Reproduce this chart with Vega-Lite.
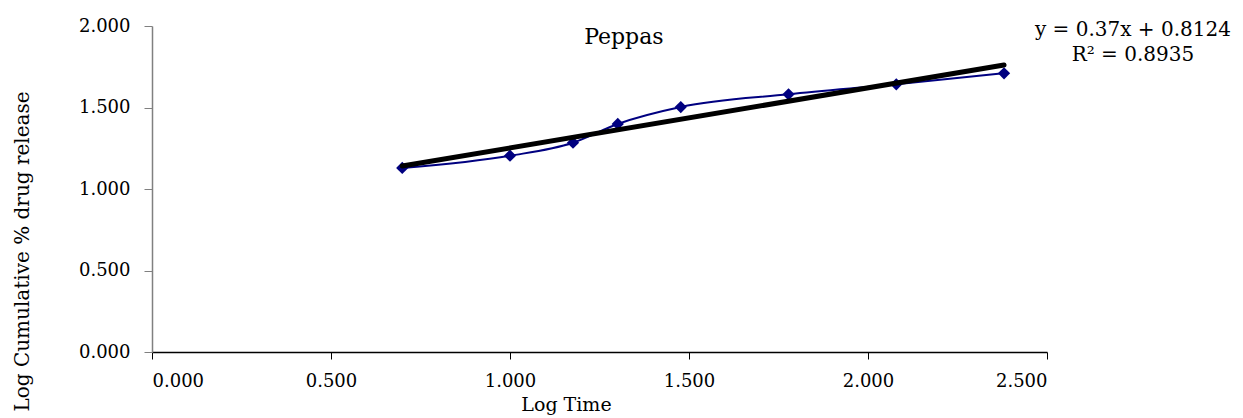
{
  "$schema": "https://vega.github.io/schema/vega-lite/v6.json",
  "width": 895,
  "height": 326,
  "autosize": "none",
  "padding": {"left": 152, "top": 26, "right": 196, "bottom": 66},
  "background": "white",
  "config": {
    "view": {"stroke": null},
    "font": "DejaVu Serif",
    "axis": {"grid": false, "labelFont": "DejaVu Serif", "titleFont": "DejaVu Serif", "labelFontSize": 18, "titleFontSize": 19, "titleFontWeight": "normal", "labelColor": "black", "titleColor": "black"}
  },
  "datasets": {
    "release": [
      {"logTime": 0.699, "logRelease": 1.129},
      {"logTime": 1.000, "logRelease": 1.204},
      {"logTime": 1.176, "logRelease": 1.284},
      {"logTime": 1.301, "logRelease": 1.399},
      {"logTime": 1.477, "logRelease": 1.503},
      {"logTime": 1.778, "logRelease": 1.581},
      {"logTime": 2.079, "logRelease": 1.642},
      {"logTime": 2.380, "logRelease": 1.710}
    ],
    "trend": [
      {"logTime": 0.699, "logRelease": 1.141},
      {"logTime": 2.380, "logRelease": 1.761}
    ],
    "labels": [
      {"logTime": 1.318, "logRelease": 1.93, "text": "Peppas", "size": 22},
      {"logTime": 2.740, "logRelease": 1.975, "text": "y = 0.37x + 0.8124", "size": 20},
      {"logTime": 2.740, "logRelease": 1.822, "text": "R² = 0.8935", "size": 20}
    ]
  },
  "layer": [
    {
      "data": {"name": "release"},
      "mark": {"type": "line", "interpolate": "monotone", "color": "#000080", "strokeWidth": 2},
      "encoding": {
        "x": {"field": "logTime", "type": "quantitative", "scale": {"domain": [0, 2.5], "nice": false},
          "axis": {"title": "Log Time", "values": [0, 0.5, 1, 1.5, 2, 2.5], "format": ".3f", "domainColor": "black", "domainWidth": 1.5, "tickColor": "black", "tickSize": 7, "labelPadding": 13, "titleX": 414, "titleY": 52, "titleAlign": "center", "titleBaseline": "middle"}},
        "y": {"field": "logRelease", "type": "quantitative", "scale": {"domain": [0, 2], "nice": false},
          "axis": {"title": "Log Cumulative % drug release", "titleFontSize": 20, "values": [0, 0.5, 1, 1.5, 2], "format": ".3f", "domainColor": "#808080", "domainWidth": 1.5, "tickColor": "#808080", "tickSize": 8, "labelPadding": 14, "titleX": -130, "titleY": 225, "titleAngle": 270, "titleAlign": "center", "titleBaseline": "middle"}}
      }
    },
    {
      "data": {"name": "release"},
      "mark": {"type": "point", "shape": "diamond", "filled": true, "color": "#000080", "size": 150, "opacity": 1},
      "encoding": {
        "x": {"field": "logTime", "type": "quantitative"},
        "y": {"field": "logRelease", "type": "quantitative"}
      }
    },
    {
      "data": {"name": "trend"},
      "mark": {"type": "line", "color": "black", "strokeWidth": 5, "strokeCap": "round"},
      "encoding": {
        "x": {"field": "logTime", "type": "quantitative"},
        "y": {"field": "logRelease", "type": "quantitative"}
      }
    },
    {
      "data": {"name": "labels"},
      "mark": {"type": "text", "font": "DejaVu Serif", "color": "black", "align": "center", "baseline": "middle", "clip": false},
      "encoding": {
        "x": {"field": "logTime", "type": "quantitative"},
        "y": {"field": "logRelease", "type": "quantitative"},
        "text": {"field": "text"},
        "size": {"field": "size", "type": "quantitative", "scale": null}
      }
    }
  ]
}
